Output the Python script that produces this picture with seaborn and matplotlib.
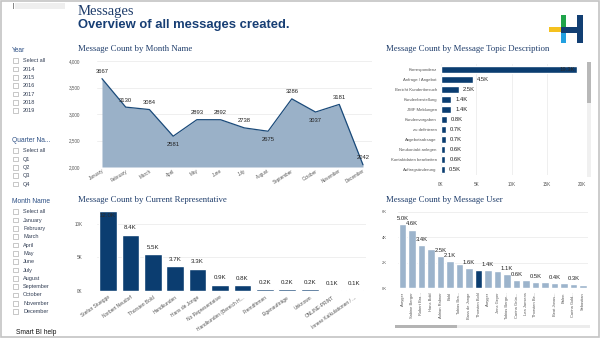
import matplotlib
matplotlib.use('Agg')
import matplotlib.pyplot as plt
import seaborn as sns
import pandas as pd
from matplotlib.patches import Rectangle

# ---------------- data ----------------
months = ["January", "February", "March", "April", "May", "June", "July",
          "August", "September", "October", "November", "December"]
month_counts = [3667, 3130, 3084, 2581, 2893, 2892, 2738, 2675, 3286, 3037, 3181, 2042]
month_yticks = [2000, 2500, 3000, 3500, 4000]

topics = ["Korrespondenz", "Anfrage / Angebot", "Bericht Kundenbesuch", "Kundenbestellung",
          "JMF Meldungen", "Kundenvorgaben", "zu definieren", "Angebotsabsage",
          "Neukontakt anlegen", "Kontaktdaten bearbeiten", "Auftragsänderung"]
topic_counts = [19300, 4500, 2500, 1400, 1400, 800, 700, 700, 600, 600, 500]
topic_xticks = [0, 5000, 10000, 15000, 20000]

reps = ["Stefan Stuegge", "Norbert Neudorf", "Thorsten Bold", "Handkunden", "Hans de Jonge",
        "No Representative", "Handkunden (Bereich H...", "Fremdfirmen", "Eigenaufträge",
        "Unknown", "ONLINE-PRINT", "Innere Kalkulationen / ..."]
rep_counts = [12000, 8400, 5500, 3700, 3300, 900, 800, 200, 200, 200, 100, 100]
rep_yticks = [0, 5000, 10000]

users = ["Auryger", "Sabine Berger", "Robert Bra...", "Hans Bold", "Adrian Rabner", "Bold",
         "Tobias Bra...", "Bass de Jonge", "Thorsten Bold", "Auryger", "Jens Geyer",
         "Tobias Berge...", "Carina Grün...", "Lea Jansens", "Thorsten Be...", " ",
         "Beat Jonas...", "Balen", "Carina Gold...", "Sebastian"]
user_counts = [5000, 4600, 3400, 3100, 2500, 2100, 1900, 1600, 1400, 1400, 1350, 1100,
               620, 630, 500, 450, 400, 400, 300, 250]
user_value_labels = ["5.0K", "4.6K", "3.4K", "", "2.5K", "2.1K", "", "1.6K", "", "1.4K", "",
                     "1.1K", "0.6K", "", "0.5K", "", "0.4K", "", "0.3K", ""]
user_selected = "Thorsten Bold"
user_yticks = [0, 2000, 4000, 6000]

year_items = ["Select all", "2014", "2015", "2016", "2017", "2018", "2019"]
quarter_items = ["Select all", "Q1", "Q2", "Q3", "Q4"]
month_items = ["Select all"] + months

# ---------------- style ----------------
sns.set_theme(style='white')
plt.rcParams['font.family'] = ['Liberation Sans', 'DejaVu Sans']

NAVY = '#0b3d70'
LIGHT = '#9cb4cc'
TITLE = '#1f3d6b'
GRID = '#ececec'
TICK = '#555555'

W, H = 600, 338
fig = plt.figure(figsize=(6, 3.38), dpi=100)
fig.patch.set_facecolor('white')


def ax_px(x0, y0, x1, y1):
    return fig.add_axes([x0 / W, 1 - y1 / H, (x1 - x0) / W, (y1 - y0) / H])


def ftext(x, y, s, **kw):
    kw.setdefault('va', 'center')
    fig.text(x / W, 1 - y / H, s, **kw)


def frect(x, y, w, h, **kw):
    fig.add_artist(Rectangle((x / W, 1 - (y + h) / H), w / W, h / H,
                             transform=fig.transFigure, **kw))


def clean(ax):
    for s in ax.spines.values():
        s.set_visible(False)
    ax.set_xlabel('')
    ax.set_ylabel('')
    ax.tick_params(length=0, pad=1, colors=TICK, labelsize=3.3)


# ---------------- frame, header, logo ----------------
frect(0.5, 0.5, W - 1.5, H - 1.5, fill=False, edgecolor='#c4c4c4', lw=1.2)
frect(13, 3, 1, 6, color='#888888', lw=0)
frect(15, 3, 50, 6, color='#eeeeee', lw=0)

ftext(78, 12, "Messages", family='Liberation Serif', fontsize=10.5, color=TITLE)
ftext(78, 25, "Overview of all messages created.", fontsize=9.4, fontweight='bold', color='#173e74')

# logo
frect(549, 27, 12, 5, color='#f5c11e', lw=0)
frect(560.5, 15, 5.5, 14, color='#1fa44a', lw=0)
frect(560.5, 32, 5.5, 11, color='#22a0e0', lw=0)
frect(560.5, 26.5, 17, 6, color='#123f73', lw=0)
frect(577, 15, 6, 28, color='#123f73', lw=0)

# ---------------- slicers ----------------
def slicer(title, y0, items):
    ftext(12, y0, title, fontsize=4.8, color='#2c4f84')
    for i, it in enumerate(items):
        y = y0 + 10 + 8.33 * i
        frect(13, y - 2.3, 5, 4.6, fill=False, edgecolor='#b0b0b0', lw=0.5)
        ftext(23, y, it, fontsize=4.0, color='#333f55')

slicer("Year", 50.7, year_items)
slicer("Quarter Na...", 140.7, quarter_items)
slicer("Month Name", 201.7, month_items)
ftext(16, 332.5, "Smart BI help", fontsize=4.8, color='#111111')

TFS = 6.3
# ---------------- Month chart ----------------
ftext(78, 49, "Message Count by Month Name", family='Liberation Serif', fontsize=TFS, color=TITLE)
ax1 = ax_px(97, 61, 372, 167)
x = list(range(len(months)))
ax1.fill_between(x, month_counts, 2000, color='#9ab1c8', lw=0)
sns.lineplot(x=x, y=month_counts, ax=ax1, color='#1a4a7a', lw=0.9)
ax1.set_xlim(-0.21, 11.38)
ax1.set_ylim(2000, 4000)
ax1.set_yticks(month_yticks)
ax1.set_yticklabels([f"{v:,}" for v in month_yticks])
ax1.yaxis.grid(True, color=GRID, lw=0.6)
ax1.set_axisbelow(True)
ax1.set_xticks(x)
ax1.set_xticklabels(months, rotation=32, ha='right', rotation_mode='anchor')
clean(ax1)
ax1.tick_params(axis='y', pad=12)
below = [3, 7, 9]
for i, v in enumerate(month_counts):
    dy = -6 if i in below else 5
    ax1.annotate(str(v), (i, v), xytext=(0, dy), textcoords='offset points',
                 ha='center', va='center', fontsize=4.2, color='#222222')

# ---------------- Topic chart ----------------
ftext(386, 49, "Message Count by Message Topic Description", family='Liberation Serif',
      fontsize=TFS, color=TITLE)
ax2 = ax_px(441, 64.3, 582, 175)
df_t = pd.DataFrame({'topic': topics, 'count': topic_counts})
sns.barplot(data=df_t, y='topic', x='count', ax=ax2, color=NAVY, width=0.68,
            saturation=1, orient='h')
ax2.set_xlim(0, 20000)
ax2.set_ylim(10.57, -0.5)
ax2.set_xticks(topic_xticks)
ax2.set_xticklabels([f"{v // 1000}K" for v in topic_xticks])
ax2.xaxis.grid(True, color=GRID, lw=0.6)
ax2.set_axisbelow(True)
clean(ax2)
ax2.tick_params(axis='y', pad=3, labelsize=3.1)
ax2.tick_params(axis='x', pad=5)
for i, v in enumerate(topic_counts):
    lab = f"{v / 1000:.1f}K"
    if v > 15000:
        ax2.text(v - 300, i, lab, ha='right', va='center', fontsize=4.2, color='#2a2a2a')
    else:
        ax2.annotate(lab, (v, i), xytext=(3, 0), textcoords='offset points',
                     ha='left', va='center', fontsize=4.2, color='#222222')
# scrollbar
frect(587, 62, 4, 115, color='#f0f0f0', lw=0)
frect(587, 62, 4, 41, color='#b8b8b8', lw=0)

# ---------------- Representative chart ----------------
ftext(78, 200, "Message Count by Current Representative", family='Liberation Serif',
      fontsize=TFS, color=TITLE)
ax3 = ax_px(96.8, 210, 365.7, 290.7)
df_r = pd.DataFrame({'rep': reps, 'count': rep_counts})
sns.barplot(data=df_r, x='rep', y='count', ax=ax3, color=NAVY, width=0.79, saturation=1)
ax3.set_xlim(-0.5, 11.5)
ax3.set_ylim(0, 12150)
ax3.set_yticks(rep_yticks)
ax3.set_yticklabels([f"{v // 1000}K" for v in rep_yticks])
ax3.yaxis.grid(True, color=GRID, lw=0.6)
ax3.set_axisbelow(True)
ax3.set_xticks(range(len(reps)))
ax3.set_xticklabels(reps, rotation=35, ha='right', rotation_mode='anchor')
clean(ax3)
ax3.tick_params(axis='y', pad=10)
ax3.tick_params(axis='x', pad=3, labelsize=3.5)
for i, v in enumerate(rep_counts):
    lab = f"{v / 1000:.1f}K"
    if v > 11000:
        ax3.text(i, v - 350, lab, ha='center', va='top', fontsize=4.4, color='#2a2a2a')
    else:
        ax3.annotate(lab, (i, v), xytext=(0, 5), textcoords='offset points',
                     ha='center', va='center', fontsize=4.4, color='#222222')

# ---------------- User chart ----------------
ftext(386, 200, "Message Count by Message User", family='Liberation Serif',
      fontsize=TFS, color=TITLE)
ax4 = ax_px(397.75, 211.7, 587.75, 288)
df_u = pd.DataFrame({'user': [f"{i}_{u}" for i, u in enumerate(users)], 'count': user_counts})
pal = [NAVY if u == user_selected else LIGHT for u in users]
sns.barplot(data=df_u, x='user', y='count', hue='user', palette=pal, legend=False,
            ax=ax4, width=0.74, saturation=1)
ax4.set_xlim(-0.5, len(users) - 0.5)
ax4.set_ylim(0, 6000)
ax4.set_yticks(user_yticks)
ax4.set_yticklabels([f"{v // 1000}K" for v in user_yticks])
ax4.yaxis.grid(True, color=GRID, lw=0.6)
ax4.set_axisbelow(True)
ax4.set_xticks(range(len(users)))
ax4.set_xticklabels(users, rotation=90, ha='center', va='top')
clean(ax4)
ax4.tick_params(axis='y', pad=8, labelsize=3.0)
ax4.tick_params(axis='x', pad=3, labelsize=2.9)
for i, (v, lab) in enumerate(zip(user_counts, user_value_labels)):
    if lab:
        ax4.annotate(lab, (i, v), xytext=(0, 4), textcoords='offset points',
                     ha='center', va='center', fontsize=4.2, color='#222222')
# scrollbar
frect(395, 324.5, 195, 3, color='#ececec', lw=0)
frect(395, 324.5, 62, 3, color='#b4b4b4', lw=0)

fig.savefig('out.png', dpi=100, facecolor='white')
